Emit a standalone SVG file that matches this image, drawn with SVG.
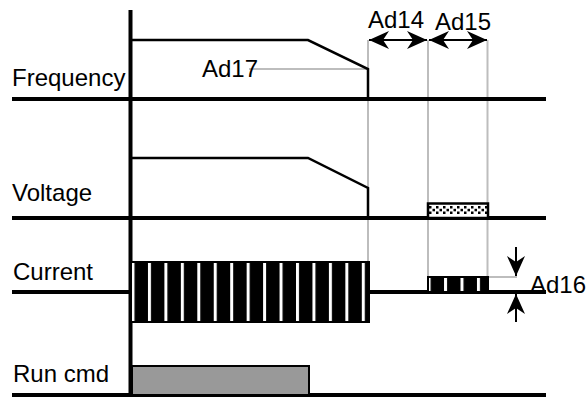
<svg xmlns="http://www.w3.org/2000/svg" width="588" height="397" viewBox="0 0 588 397">
<style>
.lbl{font-family:"Liberation Sans",Arial,sans-serif;font-size:24px;fill:#000}
.base{stroke:#000;stroke-width:4;fill:none}
.sig{stroke:#000;stroke-width:2.5;fill:none}
.guide{stroke:#bdbdbd;stroke-width:2;fill:none}
.dim{stroke:#000;stroke-width:2;fill:none;marker-start:url(#ah);marker-end:url(#ah)}
.dim1{stroke:#000;stroke-width:2;fill:none;marker-end:url(#ah)}
</style>
<defs>
<marker id="ah" viewBox="0 -9 20 18" refX="20" refY="0" markerWidth="20" markerHeight="18" markerUnits="userSpaceOnUse" orient="auto-start-reverse">
<path d="M20,0 L0,-9 L6,0 L0,9 Z" fill="#000"/>
</marker>
<pattern id="stripes" patternUnits="userSpaceOnUse" x="131.5" y="0" width="16.45" height="400">
<rect x="0" y="0" width="16.45" height="400" fill="#000"/>
<rect x="0" y="0" width="3" height="400" fill="#fff"/>
</pattern>
<pattern id="dots" patternUnits="userSpaceOnUse" x="428" y="203" width="7" height="15">
<rect x="0" y="0" width="7" height="15" fill="#fff"/>
<rect x="1" y="3" width="2.5" height="2.5" fill="#000"/>
<rect x="1" y="8.5" width="2.5" height="2.5" fill="#000"/>
<rect x="4.5" y="5.8" width="2.5" height="2.5" fill="#000"/>
</pattern>
</defs>

<g id="guides">
<line class="guide" x1="368" y1="40" x2="368" y2="262"/>
<line class="guide" x1="428" y1="40" x2="428" y2="277"/>
<line class="guide" x1="487.5" y1="40" x2="487.5" y2="277"/>
<line class="guide" x1="487" y1="277" x2="517" y2="277"/>
<line class="guide" x1="249" y1="69" x2="368" y2="69"/>
</g>

<g id="axes">
<line class="base" x1="130.5" y1="10" x2="130.5" y2="397"/>
<line class="base" x1="12" y1="99" x2="546" y2="99"/>
<line class="base" x1="12" y1="218" x2="546" y2="218"/>
<line class="base" x1="12" y1="292" x2="131" y2="292"/>
<line class="base" x1="368" y1="292" x2="546" y2="292"/>
<line class="base" x1="12" y1="395" x2="546" y2="395"/>
</g>

<g id="frequency">
<text class="lbl" x="12" y="86">Frequency</text>
<polyline class="sig" points="131,40 308,40 368,69 368,99"/>
<text class="lbl" x="202" y="77">Ad17</text>
</g>

<g id="voltage">
<text class="lbl" x="12" y="201">Voltage</text>
<polyline class="sig" points="131,158 308,158 368,188 368,218"/>
<rect x="428" y="203.5" width="60" height="14.5" fill="url(#dots)" stroke="#000" stroke-width="2.5"/>
</g>

<g id="current">
<text class="lbl" x="13" y="280">Current</text>
<rect x="131" y="262" width="238" height="60" fill="url(#stripes)" stroke="#000" stroke-width="2"/>
<rect x="428" y="277" width="60" height="15" fill="url(#stripes)" stroke="#000" stroke-width="2"/>
</g>

<g id="runcmd">
<text class="lbl" x="13" y="382">Run cmd</text>
<rect x="132" y="366" width="177" height="29" fill="#999" stroke="#000" stroke-width="2"/>
</g>

<g id="connectors">
<line class="dim" x1="369" y1="40" x2="427" y2="40"/>
<line class="dim" x1="429" y1="40" x2="487" y2="40"/>
<line class="dim1" x1="516" y1="247" x2="516" y2="276"/>
<line class="dim1" x1="516" y1="322" x2="516" y2="294"/>
</g>

<g id="dimlabels">
<text class="lbl" x="368" y="28">Ad14</text>
<text class="lbl" x="435" y="30">Ad15</text>
<text class="lbl" x="530" y="293">Ad16</text>
</g>
</svg>
